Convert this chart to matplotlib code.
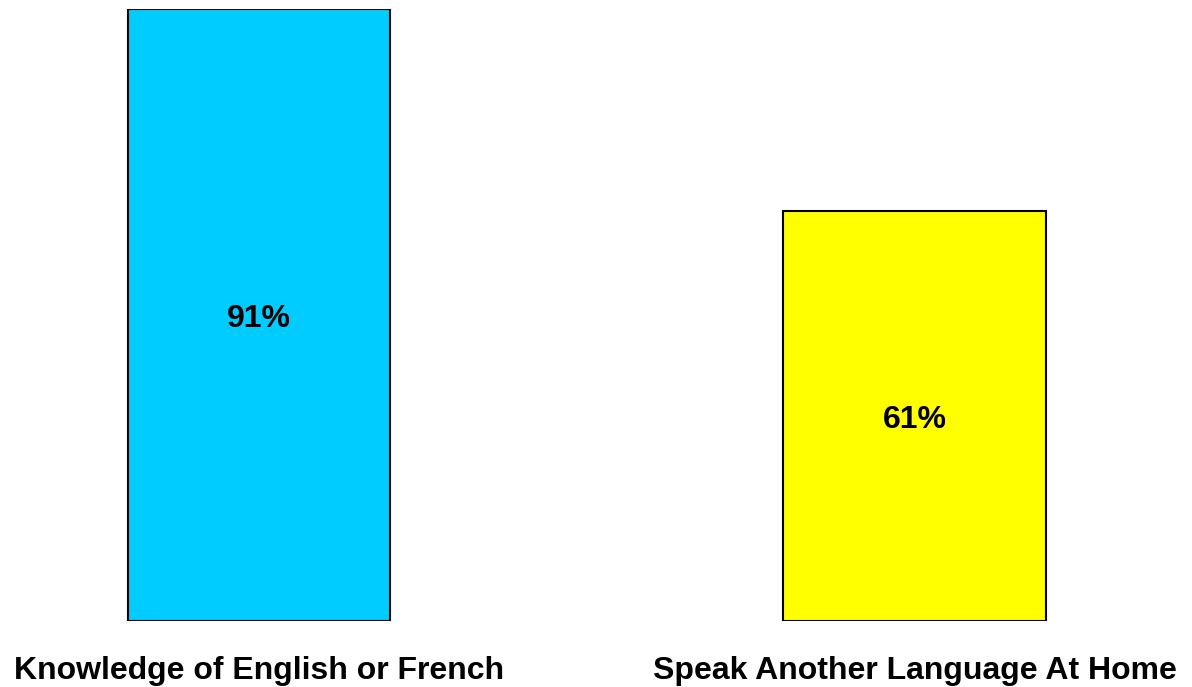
import matplotlib
matplotlib.use("Agg")
import matplotlib.pyplot as plt

categories = ["Knowledge of English or French", "Speak Another Language At Home"]
values = [91, 61]
labels = ["91%", "61%"]
colors = ["#00CCFF", "#FFFF00"]

plt.rcParams['font.family'] = ['Liberation Sans', 'DejaVu Sans']

fig = plt.figure(figsize=(11.92, 6.87), dpi=100)
ax = fig.add_axes([0, (687 - 621) / 687, 1, (621 - 9) / 687])
x = list(range(len(categories)))
bars = ax.bar(x, values, width=0.4, color=colors, edgecolor="black", linewidth=1.5)
for xi, v, lab in zip(x, values, labels):
    ax.annotate(lab, (xi, v / 2), xytext=(0, -3), textcoords="offset points",
                ha="center", va="center", fontsize=23, fontweight="bold")

ax.set_xlim(-259 / 655.5, (1192 - 259) / 655.5)
ax.set_ylim(0, 91)
ax.set_xticks(x)
ax.set_xticklabels(categories, fontsize=23, fontweight="bold")
ax.tick_params(axis="x", length=0, pad=25)
ax.set_yticks([])
for s in ax.spines.values():
    s.set_visible(False)

fig.savefig("out.png", dpi=100)
